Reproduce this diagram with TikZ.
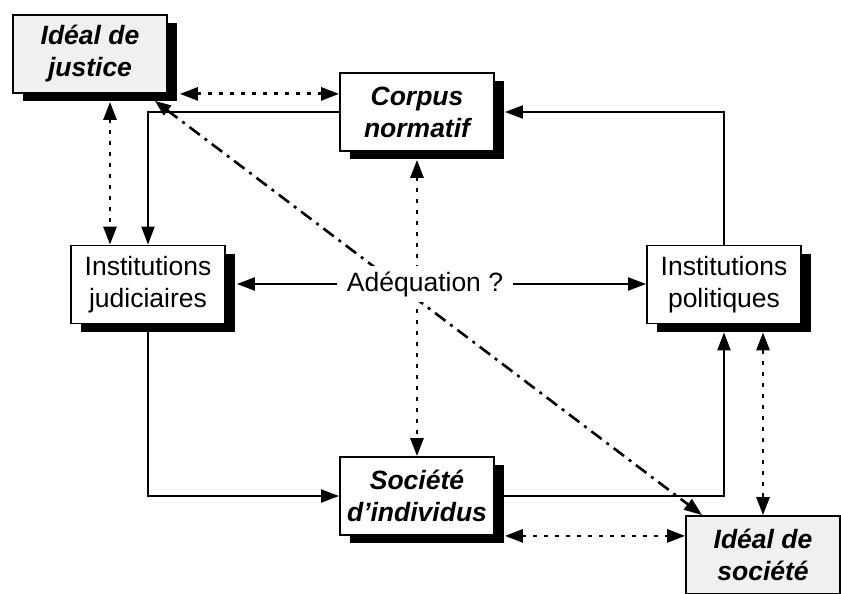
\documentclass[tikz,border=0pt]{standalone}
\usepackage{fontspec}
\setmainfont{Liberation Sans}
\usetikzlibrary{arrows.meta,shadows,calc}
\pgfdeclarelayer{bg}
\pgfsetlayers{bg,main}
\definecolor{idealgray}{HTML}{F0F0F0}
\begin{document}
\begin{tikzpicture}[x=1pt,y=-1pt,
  box/.style={draw=black,line width=1.8pt,fill=white,minimum width=154pt,minimum height=78pt,
    inner sep=0pt,align=center,font=\fontsize{26.5}{32}\selectfont,
    drop shadow={shadow xshift=10pt,shadow yshift=-8pt,fill=black,opacity=1}},
  ideal/.style={box,fill=idealgray,font=\fontsize{26.5}{32}\selectfont\bfseries\itshape},
  keybox/.style={box,font=\fontsize{26.5}{32}\selectfont\bfseries\itshape},
  tip/.style={-{Triangle[length=18pt,width=13pt]}},
  conn/.style={line width=2pt,tip},
  dots/.style={line width=2.8pt,dash pattern=on 4pt off 7pt,{Triangle[length=18pt,width=13pt]}-{Triangle[length=18pt,width=13pt]}},
  dashdot/.style={line width=2.6pt,dash pattern=on 13pt off 6pt on 3pt off 6pt,{Triangle[length=16pt,width=12pt]}-{Triangle[length=18pt,width=13pt]}},
  adq/.style={fill=white,inner xsep=10pt,inner ysep=5pt,font=\fontsize{26.5}{32}\selectfont}
]
\useasboundingbox (0,0) rectangle (841,594);

\node[ideal]  (IJ)   at (90,54)    {Idéal de\\justice};
\node[keybox] (CN)   at (417,112)  {Corpus\\normatif};
\node[box]    (IJud) at (148,284.5) {Institutions\\judiciaires};
\node[box]    (IP)   at (724,284.5) {Institutions\\politiques};
\node[keybox] (SI)   at (417,496)  {Société\\d’individus};
\node[ideal]  (IS)   at (763,555)  {Idéal de\\société};
\node[adq]    (ADQ)  at (425,284)  {Adéquation ?};

\begin{pgfonlayer}{bg}
  \draw[dashdot] ([shift={(-13pt,-7pt)}]IJ.south east) -- ([xshift=17pt]IS.north west);
  \draw[dots] ([yshift=-8pt]CN.south) -- (SI.north);
\end{pgfonlayer}

% dotted links
\draw[dots] ([xshift=12pt]IJ.south east) -- (IJ.south east -| CN.west);
\draw[dots] ([shift={(20pt,-8pt)}]IJ.south) -- ([xshift=20pt]IJ.south |- IJud.north);
\draw[dots] ([shift={(39pt,-8pt)}]IP.south) -- ([xshift=39pt]IP.south |- IS.north);
\draw[dots] ([xshift=10pt]SI.south east) -- (SI.south east -| IS.west);

% solid links
\draw[conn] (CN.west) -| (IJud.north);
\draw[conn] (IP.north) |- ([xshift=10pt]CN.east);
\draw[conn] (IJud.south) |- (SI.west);
\draw[conn] (SI.east) -| ([yshift=-8pt]IP.south);
\draw[conn] (ADQ.west) -- ([xshift=11pt]IJud.east |- ADQ.west);
\draw[conn] (ADQ.east) -- (IP.west |- ADQ.east);
\end{tikzpicture}
\end{document}
